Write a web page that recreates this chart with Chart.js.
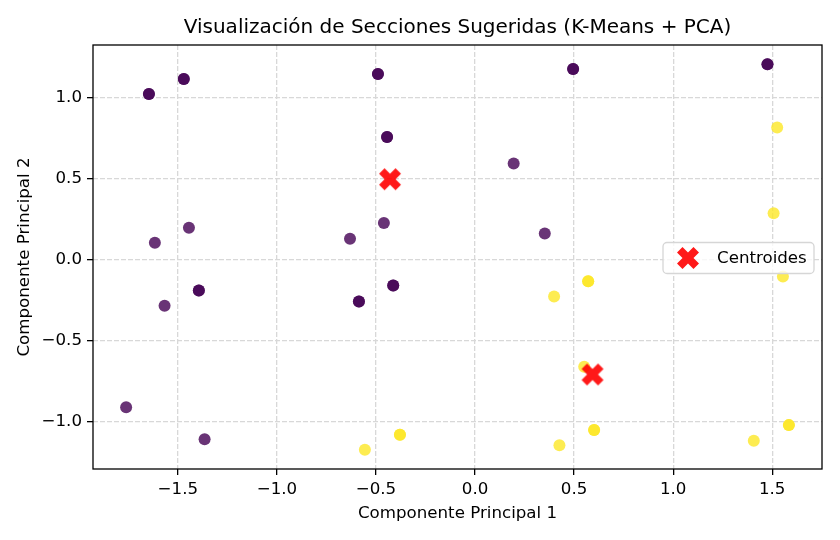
<!DOCTYPE html>
<html>
<head>
<meta charset="utf-8">
<script src="https://cdn.jsdelivr.net/npm/chart.js@4.4.1/dist/chart.umd.min.js"></script>
<style>
  html, body { margin: 0; padding: 0; background: #fff; }
  #wrap { width: 840px; height: 540px; }
</style>
</head>
<body>
<div id="wrap"><canvas id="chart" width="840" height="540"></canvas></div>
<script>
// PCA coordinates of each row (repeated rows sit on top of each other)
var pc1 = [-1.646, -1.646, -1.470, -1.470, -0.490, -0.490, -0.444, -0.444, 0.495, 0.495,
           1.476, 1.476, -1.616, -1.444, -0.631, -0.460, 0.195, 0.352, -1.394, -1.394,
           -1.567, -0.586, -0.586, -0.413, -0.413, -1.761, -1.365,
           1.525, 1.507, 1.554, 0.571, 0.571, 0.399, 0.551, 0.601, 0.601,
           0.426, 1.407, 1.584, 1.584, -0.379, -0.379, -0.556];
var pc2 = [1.025, 1.025, 1.117, 1.117, 1.148, 1.148, 0.759, 0.759, 1.179, 1.179,
           1.208, 1.208, 0.105, 0.198, 0.130, 0.228, 0.595, 0.162, -0.189, -0.189,
           -0.284, -0.257, -0.257, -0.158, -0.158, -0.911, -1.109,
           0.817, 0.288, -0.103, -0.132, -0.132, -0.226, -0.660, -1.051, -1.051,
           -1.146, -1.117, -1.021, -1.021, -1.080, -1.080, -1.173];
var cluster = [0, 0, 0, 0, 0, 0, 0, 0, 0, 0,
               0, 0, 0, 0, 0, 0, 0, 0, 0, 0,
               0, 0, 0, 0, 0, 0, 0,
               1, 1, 1, 1, 1, 1, 1, 1, 1,
               1, 1, 1, 1, 1, 1, 1];
var centroidX = [-0.429, 0.593];
var centroidY = [0.498, -0.708];

var xTicks = [-1.5, -1.0, -0.5, 0.0, 0.5, 1.0, 1.5];
var yTicks = [-1.0, -0.5, 0.0, 0.5, 1.0];

var titleText = 'Visualización de Secciones Sugeridas (K-Means + PCA)';
var xLabel = 'Componente Principal 1';
var yLabel = 'Componente Principal 2';
var centroidLabel = 'Centroides';

// viridis ends, alpha 0.8
var clusterColors = ['rgba(68,1,84,0.8)', 'rgba(253,231,37,0.8)'];
var FONT = 'DejaVu Sans';
var TXT = 16.67;

// filled "X" marker like matplotlib's 'X'
function makeXMarker(size, color) {
  var c = document.createElement('canvas');
  c.width = size + 4;
  c.height = size + 4;
  var g = c.getContext('2d');
  var s = size / 0.943;
  var w = s / 6, L = s / 2;
  g.translate(c.width / 2, c.height / 2);
  g.rotate(Math.PI / 4);
  g.beginPath();
  var pts = [[-w, -L], [w, -L], [w, -w], [L, -w], [L, w], [w, w],
             [w, L], [-w, L], [-w, w], [-L, w], [-L, -w], [-w, -w]];
  g.moveTo(pts[0][0], pts[0][1]);
  for (var i = 1; i < pts.length; i++) g.lineTo(pts[i][0], pts[i][1]);
  g.closePath();
  g.fillStyle = color;
  g.fill();
  return c;
}
var xMarker = makeXMarker(22, 'rgba(255,0,0,0.9)');

function range(vals) {
  var lo = Math.min.apply(null, vals), hi = Math.max.apply(null, vals);
  var m = (hi - lo) * 0.05;
  return [lo - m, hi + m];
}
var xr = range(pc1.concat(centroidX));
var yr = range(pc2.concat(centroidY));

function fmt(v) {
  return v.toFixed(1).replace('-', '\u2212');
}

var points = pc1.map(function (x, i) { return { x: x, y: pc2[i] }; });
var centroids = centroidX.map(function (x, i) { return { x: x, y: centroidY[i] }; });

var framePlugin = {
  id: 'frame',
  afterDatasetsDraw: function (chart) {
    var ctx = chart.ctx, a = chart.chartArea;
    ctx.save();
    ctx.strokeStyle = '#000';
    ctx.lineWidth = 1.3;
    ctx.strokeRect(a.left, a.top, a.right - a.left, a.bottom - a.top);
    ctx.restore();
  },
  afterDraw: function (chart) {
    var ctx = chart.ctx, a = chart.chartArea;
    ctx.save();
    // title
    ctx.fillStyle = '#000';
    ctx.font = '20px "' + FONT + '"';
    ctx.textAlign = 'center';
    ctx.textBaseline = 'middle';
    ctx.fillText(titleText, (a.left + a.right) / 2, 28);

    // legend box, right middle of the axes
    var bw = 151, bh = 31;
    var bx = a.right - 8 - bw, by = (a.top + a.bottom) / 2 - bh / 2 + 1;
    ctx.beginPath();
    ctx.roundRect(bx, by, bw, bh, 4);
    ctx.fillStyle = 'rgba(255,255,255,0.8)';
    ctx.fill();
    ctx.strokeStyle = '#d6d6d6';
    ctx.lineWidth = 1.3;
    ctx.stroke();
    ctx.drawImage(xMarker, bx + 25 - xMarker.width / 2, by + bh / 2 - xMarker.height / 2);
    ctx.fillStyle = '#000';
    ctx.font = TXT + 'px "' + FONT + '"';
    ctx.textAlign = 'left';
    ctx.fillText(centroidLabel, bx + 54, by + bh / 2 + 1);
    ctx.restore();
  }
};

new Chart(document.getElementById('chart'), {
  type: 'scatter',
  data: {
    datasets: [
      {
        label: centroidLabel,
        data: centroids,
        pointStyle: xMarker,
        pointRadius: 12,
        order: 0
      },
      {
        label: 'Puntos',
        data: points,
        backgroundColor: cluster.map(function (c) { return clusterColors[c]; }),
        borderWidth: 0,
        pointRadius: 6,
        order: 1
      }
    ]
  },
  options: {
    responsive: false,
    animation: false,
    events: [],
    layout: { padding: { top: 45, right: 18, bottom: 0, left: 0 } },
    plugins: {
      legend: { display: false },
      title: { display: false },
      tooltip: { enabled: false }
    },
    scales: {
      x: {
        type: 'linear',
        min: xr[0],
        max: xr[1],
        afterBuildTicks: function (s) { s.ticks = xTicks.map(function (v) { return { value: v }; }); },
        afterFit: function (s) { s.height = 71; },
        ticks: {
          color: '#000',
          padding: 5,
          maxRotation: 0,
          font: { family: FONT, size: TXT },
          callback: function (v) { return fmt(v); }
        },
        grid: { color: '#d8d8d8', lineWidth: 1.3, tickColor: '#000', tickLength: 6, tickWidth: 1.3 },
        border: { display: false, dash: [5, 2] },
        title: {
          display: true,
          text: xLabel,
          color: '#000',
          font: { family: FONT, size: TXT },
          padding: { top: 0, bottom: 16 }
        }
      },
      y: {
        type: 'linear',
        min: yr[0],
        max: yr[1],
        afterBuildTicks: function (s) { s.ticks = yTicks.map(function (v) { return { value: v }; }); },
        afterFit: function (s) { s.width = 93; },
        ticks: {
          color: '#000',
          padding: 5,
          font: { family: FONT, size: TXT },
          callback: function (v) { return fmt(v); }
        },
        grid: { color: '#d8d8d8', lineWidth: 1.3, tickColor: '#000', tickLength: 6, tickWidth: 1.3 },
        border: { display: false, dash: [5, 2] },
        title: {
          display: true,
          text: yLabel,
          color: '#000',
          font: { family: FONT, size: TXT },
          padding: { top: 15, bottom: 0 }
        }
      }
    }
  },
  plugins: [framePlugin]
});
</script>
</body>
</html>
